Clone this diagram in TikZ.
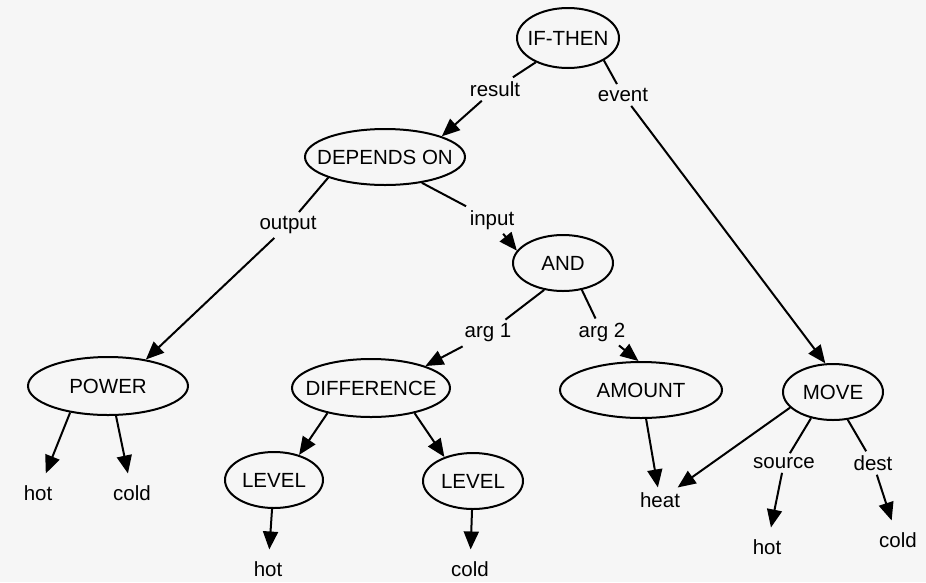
\documentclass[tikz,border=0pt]{standalone}
\usepackage{fontspec}
\setmainfont{Liberation Sans}
\usepackage{tikz}
\usetikzlibrary{positioning}
\usetikzlibrary{arrows.meta}
\usetikzlibrary{shapes}
\definecolor{paper}{rgb}{0.965,0.965,0.965}
\newcommand{\ovaltext}[1]{\makebox[0pt]{#1}}

\begin{document}
\begin{tikzpicture} [
    x=1pt, y=-1pt,                          % pixel grid, top-down
    font=\fontsize{20.5}{22}\selectfont,
    ]
% -------------------------------------------------
\tikzset{
  base/.style={draw, ellipse, line width=2pt, inner sep=0pt, minimum height=56pt},
  lab/.style={inner sep=4pt},
  leaf/.style={inner sep=3pt, outer sep=9pt},
  line/.style={draw, line width=2pt},
  arrow/.style={line, -{Triangle[length=18pt,width=15pt]}},
}
    \useasboundingbox (0,0) rectangle (926,582);
    \fill [paper] (0,0) rectangle (926,582);

    \node [base, minimum width=102pt, minimum height=60pt] (ifthen) at (568,38) {\ovaltext{IF-THEN}};
    \node [base, minimum width=160pt] (depends) at (385,157) {\ovaltext{DEPENDS ON}};
    \node [base, minimum width=100pt] (and) at (563,263) {\ovaltext{AND}};
    \node [base, minimum width=160pt, minimum height=58pt] (power) at (108,386) {\ovaltext{POWER}};
    \node [base, minimum width=158pt, minimum height=58pt] (diff) at (371,388) {\ovaltext{DIFFERENCE}};
    \node [base, minimum width=98pt] (levelh) at (274,480) {\ovaltext{LEVEL}};
    \node [base, minimum width=100pt] (levelc) at (473,481) {\ovaltext{LEVEL}};
    \node [base, minimum width=162pt] (amount) at (641,390) {\ovaltext{AMOUNT}};
    \node [base, minimum width=100pt] (move) at (833,392) {\ovaltext{MOVE}};

    % slot names
    \node [lab] (result) at (495,89) {result};
    \node [lab] (event) at (623,95) {event};
    \node [lab] (output) at (288,225) {output};
    \node [lab] (input) at (492,220) {input};
    \node [lab] (argone) at (488,333) {arg 1};
    \node [lab] (argtwo) at (602,332) {arg 2};
    \node [lab] (source) at (784,463) {source};
    \node [lab] (dest) at (873,463) {dest};

    % fillers
    \node [leaf] (powerhot) at (38,493) {hot};
    \node [leaf] (powercold) at (132,493) {cold};
    \node [leaf] (levelhot) at (268,569) {hot};
    \node [leaf] (levelcold) at (470,569) {cold};
    \node [leaf, outer sep=2pt] (heat) at (660,500) {heat};
    \node [leaf] (movehot) at (767,547) {hot};
    \node [leaf] (movecold) at (898,540) {cold};

    \path [line] (ifthen.217) -- (result);
    \path [arrow] (result) -- (depends.20);
    \path [line] (ifthen.-32) -- (event);
    \path [arrow] (event) -- (move.105);

    \path [line] (depends.200) -- (output);
    \path [arrow] (output) -- (power.35);
    \path [line] (depends.-35) -- (input);
    \path [arrow] (input) -- (and.165);

    \path [line] (and.235) -- (argone);
    \path [arrow] (argone) -- (diff.22);
    \path [line] (and.-55) -- (argtwo);
    \path [arrow] (argtwo) -- (amount.95);

    \path [arrow] (power.215) -- (powerhot);
    \path [arrow] (power.-75) -- (powercold);
    \path [arrow] (diff.210) -- (levelh.45);
    \path [arrow] (diff.-30) -- (levelc.140);
    \path [arrow] (levelh) -- (levelhot);
    \path [arrow] (levelc) -- (levelcold);

    \path [arrow] (amount.-80) -- (heat);
    \path [arrow] (move.200) -- (heat);
    \path [line] (move.230) -- (source);
    \path [arrow] (source) -- (movehot);
    \path [line] (move.-62) -- (dest);
    \path [arrow] (dest) -- (movecold);

\end{tikzpicture}
\end{document}
